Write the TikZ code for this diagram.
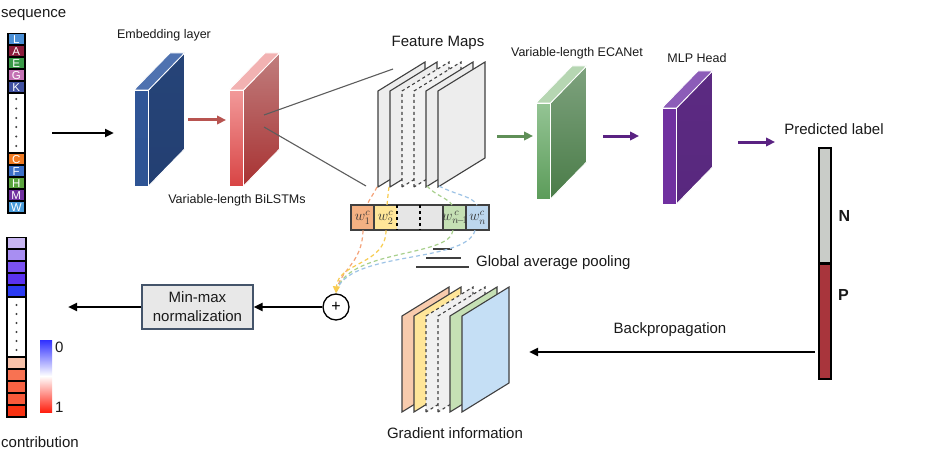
\documentclass[tikz,border=0pt]{standalone}
\usepackage{fontspec}
\setmainfont{Liberation Sans}
\usetikzlibrary{arrows.meta}
\definecolor{txt}{HTML}{1A1A1A}
\definecolor{edge}{HTML}{404040}
\definecolor{cL}{HTML}{4A8FD6}
\definecolor{cA}{HTML}{8B1C3C}
\definecolor{cE}{HTML}{3A9A48}
\definecolor{cG}{HTML}{C472B4}
\definecolor{cK}{HTML}{4050A0}
\definecolor{cC}{HTML}{F07A22}
\definecolor{cF}{HTML}{3C70C8}
\definecolor{cH}{HTML}{5AA43E}
\definecolor{cM}{HTML}{7030A0}
\definecolor{cW}{HTML}{4A9CDA}
\definecolor{p1}{HTML}{C8B6F2}
\definecolor{p2}{HTML}{A88EF2}
\definecolor{p3}{HTML}{7A52F2}
\definecolor{p4}{HTML}{5A32F0}
\definecolor{p5}{HTML}{2A3AF2}
\definecolor{r1}{HTML}{F8C2AA}
\definecolor{r2}{HTML}{F87252}
\definecolor{r3}{HTML}{F86242}
\definecolor{r4}{HTML}{F85A3A}
\definecolor{r5}{HTML}{F83212}
\definecolor{arrred}{HTML}{B85450}
\definecolor{arrgreen}{HTML}{5F8F57}
\definecolor{arrpurple}{HTML}{5A2282}
\definecolor{worange}{HTML}{F4B183}
\definecolor{wyellow}{HTML}{FFE699}
\definecolor{wgreen}{HTML}{C5E0B4}
\definecolor{wblue}{HTML}{BDD7EE}
\definecolor{wgrey}{HTML}{E6E6E6}
\definecolor{gorange}{HTML}{F8CBAD}
\definecolor{gblue}{HTML}{C5DFF5}
\definecolor{corange}{HTML}{F4A37A}
\definecolor{cyellow}{HTML}{F8CC50}
\definecolor{cgreen}{HTML}{A8D08D}
\definecolor{cblue}{HTML}{9DC3E6}
\definecolor{ngrey}{HTML}{C9CCC8}
\definecolor{pred}{HTML}{A8353C}
\definecolor{boxfill}{HTML}{E8E8E8}
\definecolor{boxedge}{HTML}{44546A}
\definecolor{cbblue}{HTML}{3030FF}
\definecolor{cbred}{HTML}{FF2010}
\newcommand\myslab[7]{%
  \definecolor{sfa}{HTML}{#3}\definecolor{sfb}{HTML}{#4}%
  \definecolor{ssa}{HTML}{#5}\definecolor{ssb}{HTML}{#6}%
  \definecolor{stp}{HTML}{#7}%
  \shade[top color=sfa,bottom color=sfb,draw=white,line width=0.8pt] (#1,#2) rectangle ++(14.5,96);
  \shade[top color=ssa,bottom color=ssb,draw=white,line width=0.8pt] (#1+14.5,#2) -- ++(36,-37) -- ++(0,96) -- ++(-36,37) -- cycle;
  \fill[stp,draw=white,line width=0.8pt] (#1,#2) -- ++(36,-37) -- ++(14.5,0) -- ++(-36,37) -- cycle;
}
\newcommand\mysheet[4]{% x, bottom y, fill, style
  \filldraw[fill=#3,draw=edge,line width=1.1pt,#4] (#1,#2) -- ++(0,-96) -- ++(47,-29) -- ++(0,96) -- cycle;
}
\begin{document}
\begin{tikzpicture}[x=1pt,y=-1pt,
  big/.style={font=\fontsize{15}{18}\selectfont,text=txt,inner sep=0pt},
  small/.style={font=\fontsize{12.5}{15}\selectfont,text=txt,inner sep=0pt},
  letter/.style={font=\fontsize{11.5}{11.5}\selectfont,text=white,inner sep=0pt},
  wlab/.style={text=black!80,font=\fontsize{14}{15}\selectfont,inner sep=0pt},
  blkarrow/.style={line width=2.5pt,-{Triangle[length=9pt,width=8pt]}},
  colarrow/.style={line width=3pt,-{Triangle[length=9pt,width=8.5pt]},draw=#1},
  dcurve/.style={draw=#1,line width=1.2pt,dash pattern=on 4pt off 3pt},
  seqdot/.style={circle,fill=edge,inner sep=0pt,minimum size=2.4pt}
]
\useasboundingbox (0,0) rectangle (930,460);
\fill[white] (0,0) rectangle (930,460);

% ---------- sequence column ----------
\node[big,anchor=west] (seqlab) at (1,15) {sequence};
\fill[black] (7,33) rectangle (25.5,213.5);
\foreach \y/\c/\l in {33/cL/L,45/cA/A,57/cE/E,69/cG/G,81/cK/K,153/cC/C,165/cF/F,177/cH/H,189/cM/M,201/cW/W}{
  \fill[\c] (8.6,\y+1.4) rectangle (23.9,\y+11);
  \node[letter] at (16.25,\y+6.3) {\l};
}
\fill[white] (8.6,94.4) rectangle (23.9,152);
\foreach \y in {99,108.5,118,127,136.5,146}{\node[seqdot] at (16.25,\y) {};}

% input arrow
\coordinate (in1) at (52,133);
\coordinate (in2) at (114,133);
\draw[blkarrow] (in1) -- (in2);

% ---------- slabs ----------
\myslab{134}{90}{2F5597}{2E5494}{264478}{233F72}{4F72B0}
\node[small] (emblab) at (164,35) {Embedding layer};
\coordinate (e1) at (188,120);
\coordinate (e2) at (226,120);
\draw[colarrow=arrred] (e1) -- (e2);

\myslab{229}{90}{F29A9A}{D84444}{C07E7E}{A83232}{F2B2B2}
\node[small] (bilab) at (237,200) {Variable-length BiLSTMs};

% projection lines
\coordinate (pl1) at (264,115);
\coordinate (pl2) at (393,69);
\coordinate (pl3) at (264,127);
\coordinate (pl4) at (366,186);
\draw[edge!85,line width=1.1pt] (pl1) -- (pl2);
\draw[edge!85,line width=1.1pt] (pl3) -- (pl4);

% ---------- feature maps ----------
\node[big] (fmlab) at (438,43) {Feature Maps};
\mysheet{378}{187}{black!7}{}
\mysheet{390}{187}{black!7}{}
\mysheet{402}{187}{black!5}{dashed}
\mysheet{414}{187}{black!5}{dashed}
\mysheet{426}{187}{black!7}{}
\mysheet{438}{187}{black!7}{}

% green arrow, ECANet
\coordinate (g1) at (497,136);
\coordinate (g2) at (533,136);
\draw[colarrow=arrgreen] (g1) -- (g2);
\myslab{536}{103}{94C494}{5C9C5A}{7EA27E}{4A7C48}{B6D6B2}
\node[small] (ecalab) at (577,53) {Variable-length ECANet};

\coordinate (m1) at (603,136);
\coordinate (m2) at (639,136);
\draw[colarrow=arrpurple] (m1) -- (m2);
\myslab{662}{108}{7030A0}{7030A0}{5C2A82}{58287E}{8C5CB8}
\node[small] (mlplab) at (697,58) {MLP Head};

\coordinate (o1) at (738,142);
\coordinate (o2) at (775,142);
\draw[colarrow=arrpurple] (o1) -- (o2);
\node[big] (predlab) at (834,129) {Predicted label};

% ---------- output bar ----------
\node[draw=black,line width=1.5pt,fill=ngrey,minimum width=12pt,minimum height=115pt,inner sep=0pt,anchor=north west] (Nbar) at (818,147) {};
\node[draw=black,line width=1.5pt,fill=pred,minimum width=12pt,minimum height=116pt,inner sep=0pt,anchor=north west] (Pbar) at (818,262) {};
\draw[black,line width=2.5pt] (Nbar.south west) -- (Nbar.south east);
\node[font=\fontsize{16}{18}\selectfont\bfseries,text=txt,inner sep=0pt] (Nlab) at (844.5,216) {N};
\node[font=\fontsize{16}{18}\selectfont\bfseries,text=txt,inner sep=0pt] (Plab) at (843.5,295) {P};

% backpropagation
\coordinate (bp1) at (815,352);
\coordinate (bp2) at (529,352);
\draw[blkarrow] (bp1) -- (bp2);
\node[big] (bplab) at (670,330) {Backpropagation};

% ---------- weights bar ----------
\foreach \x/\c/\n in {351/worange/w1,374/wyellow/w2,397/wgrey/wa,420/wgrey/wb,443/wgreen/w3,466/wblue/w4}{
  \node[fill=\c,minimum width=23pt,minimum height=25pt,inner sep=0pt,anchor=north west] (\n) at (\x,205) {};
}
\draw[edge,line width=1.3pt] (351,205) rectangle (489,230);
\draw[edge,line width=1.1pt] (374,205) -- (374,230);
\draw[black,line width=1.1pt,dashed] (397,205) -- (397,230);
\draw[black,line width=1.1pt,dashed] (420,205) -- (420,230);
\draw[edge,line width=1.1pt] (443,205) -- (443,230);
\draw[edge,line width=1.1pt] (466,205) -- (466,230);
\node[wlab] at (w1) {$w_1^c$};
\node[wlab] at (w2) {$w_2^c$};
\node[wlab] at ([xshift=0.5pt]w3.center) {$w_{n\!-\!1}^{\,c}$};
\node[wlab] at (w4) {$w_n^c$};

% global average pooling
\draw[edge,line width=1.5pt] (433,249) -- (452,249);
\draw[edge,line width=1.5pt] (426,258) -- (461,258);
\draw[edge,line width=1.5pt] (416,267) -- (469,267);
\node[big,anchor=west] (gaplab) at (476,263) {Global average pooling};

% ---------- plus and min-max ----------
\node[circle,draw=black,line width=1.3pt,fill=white,minimum size=26pt,inner sep=0pt,font=\fontsize{16}{16}\selectfont] (plus) at (336,307) {+};
\node[draw=boxedge,line width=1.3pt,fill=boxfill,minimum width=111pt,minimum height=44pt,align=center,inner sep=0pt,font=\fontsize{15}{19}\selectfont,text=txt] (mm) at (197.5,307) {Min-max\\normalization};
\draw[blkarrow] (plus.west) -- (mm.east);
\coordinate (c2) at (68,307);
\draw[blkarrow] (mm.west) -- (c2);

% dashed curves
\coordinate (pt) at (336,293);
\draw[dcurve=corange] (377,187) .. controls (373,195) and (369,200) .. (w1.north -| 367,205);
\draw[dcurve=cyellow] (389,187) .. controls (388,195) .. (w2.north -| 387,205);
\draw[dcurve=cgreen] (427,186) .. controls (436,196) and (448,198) .. (w3.north -| 452,205);
\draw[dcurve=cblue] (439,186) .. controls (456,195) and (472,196) .. (w4.north -| 477,205);
\draw[dcurve=corange] (w1.south -| 363,230) .. controls (362,265) and (340,268) .. (pt);
\draw[dcurve=cgreen] (w3.south -| 453,230) .. controls (450,258) and (345,248) .. (pt);
\draw[dcurve=cblue] (w4.south -| 475,230) .. controls (466,264) and (345,250) .. (pt);
\draw[dcurve=cyellow,-{Triangle[length=7pt,width=7pt]}] (w2.south -| 386,230) .. controls (386,265) and (338,262) .. (plus.north);

% ---------- gradient information ----------
\mysheet{402}{412}{gorange}{}
\mysheet{414}{412}{wyellow}{}
\mysheet{426}{412}{black!6}{dashed}
\mysheet{438}{412}{black!6}{dashed}
\mysheet{450}{412}{wgreen}{}
\mysheet{462}{412}{gblue}{}
\node[big] (gilab) at (455,433) {Gradient information};

% ---------- contribution column ----------
\fill[black] (6,237) rectangle (27,418);
\foreach \y/\c in {237/p1,249/p2,261/p3,273/p4,285/p5,357/r1,369/r2,381/r3,393/r4,405/r5}{
  \fill[\c] (7.8,\y+1.4) rectangle (25.2,\y+11.2);
}
\fill[white] (7.8,298.4) rectangle (25.2,356);
\foreach \y in {305,314,323,332,341,350}{\node[seqdot] at (16.5,\y) {};}
\shade[top color=cbblue,bottom color=cbred,middle color=white] (40,340) rectangle (52,412);
\node[big,anchor=west] (zero) at (55,347) {0};
\node[big,anchor=west] (one) at (55,407) {1};
\node[big,anchor=west] (contlab) at (1,442) {contribution};
\end{tikzpicture}
\end{document}
